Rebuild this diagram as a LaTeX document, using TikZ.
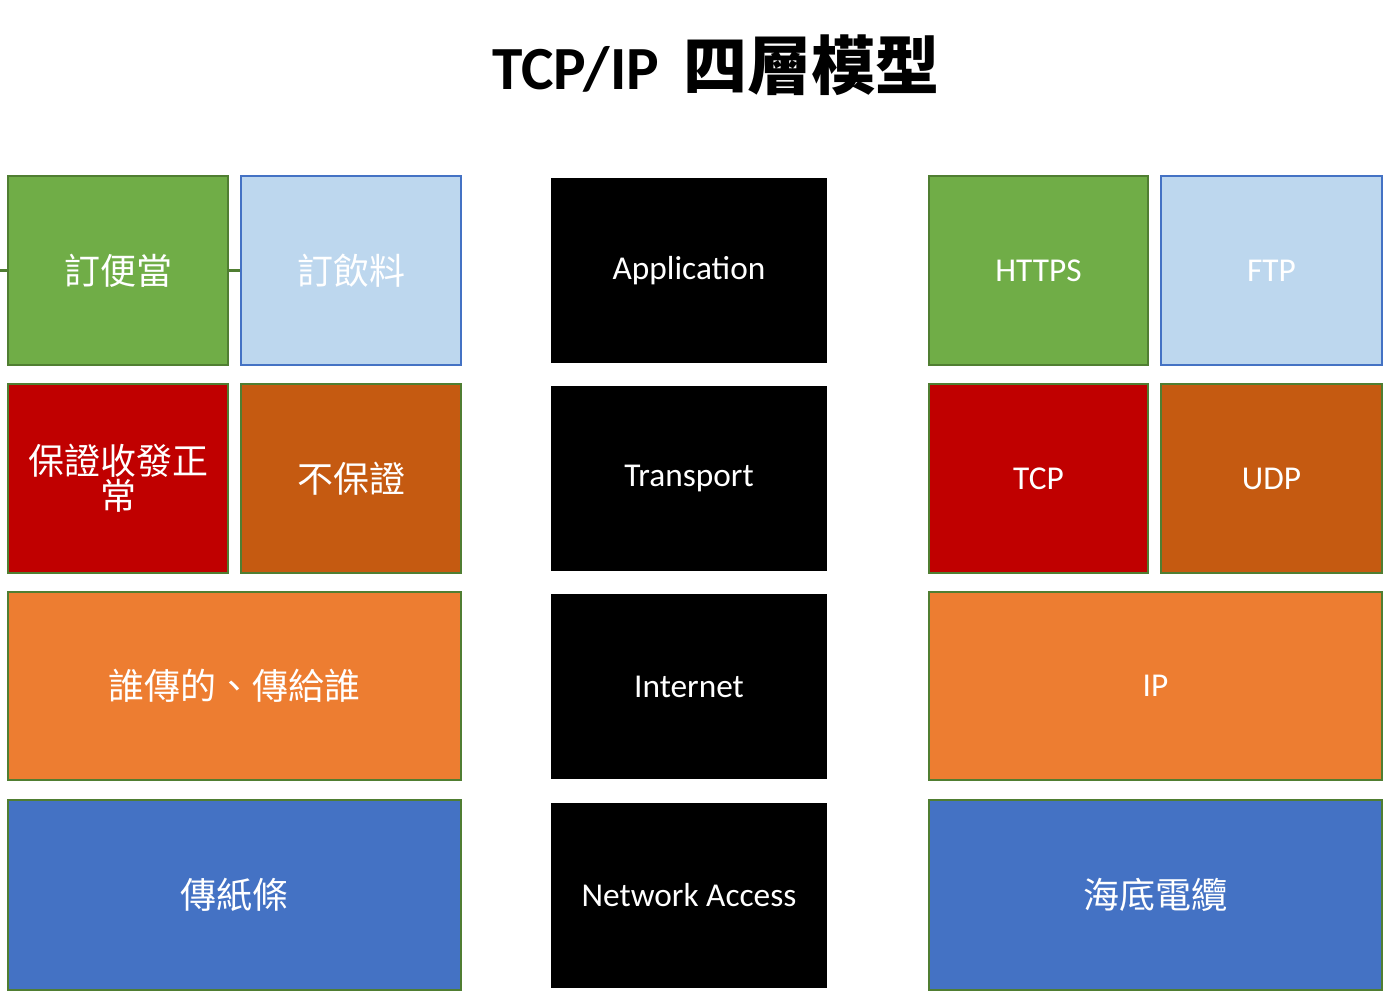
\documentclass[tikz,border=0pt]{standalone}
\usepackage{fontspec}
\setmainfont{Carlito}
\newfontfamily\cjk{Noto Sans CJK TC}
\definecolor{cgreen}{HTML}{70AD47}
\definecolor{clblue}{HTML}{BDD7EE}
\definecolor{cred}{HTML}{C00000}
\definecolor{cbrown}{HTML}{C55A11}
\definecolor{corange}{HTML}{ED7D31}
\definecolor{cblue}{HTML}{4472C4}
\definecolor{edgeg}{HTML}{507E32}
\begin{document}
\begin{tikzpicture}[x=0.75pt,y=-0.75pt,
 box/.style={draw=edgeg,line width=1.5pt,text=white,align=center,inner sep=0pt,font=\fontsize{27}{30}\selectfont},
 mid/.style={fill=black,text=white,inner sep=0pt,font=\fontsize{25}{30}\selectfont}]
\useasboundingbox (0,0) rectangle (1383,992);
\node (title) at (716,65) {\fontsize{46}{50}\selectfont\bfseries TCP/IP\hspace{0.4em}{\cjk\fontsize{48}{50}\selectfont 四層模型}};
% left
\node[box,fill=cgreen,minimum width=220\pgflinewidth] (l1) at (118,270.5) {};
\path (8,176) coordinate (a);
\node[box,fill=cgreen,minimum width=165pt,minimum height=141.75pt] (l1) at (118,270.5) {\cjk 訂便當};
\node[box,fill=clblue,draw=cblue,minimum width=165pt,minimum height=141.75pt] (l2) at (351,270.5) {\cjk 訂飲料};
\node[box,fill=cred,minimum width=165pt,minimum height=141.75pt] (l3) at (118,478.5) {\cjk 保證收發正\\[-4pt]\cjk 常};
\node[box,fill=cbrown,minimum width=165pt,minimum height=141.75pt] (l4) at (351,478.5) {\cjk 不保證};
\node[box,fill=corange,minimum width=339.75pt,minimum height=141pt] (l5) at (234.5,686) {\cjk 誰傳的、傳給誰};
\node[box,fill=cblue,minimum width=339.75pt,minimum height=142.5pt] (l6) at (234.5,895) {\cjk 傳紙條};
% middle
\node[mid,minimum width=207pt,minimum height=138.75pt] (m1) at (689,270.5) {Application};
\node[mid,minimum width=207pt,minimum height=138.75pt] (m2) at (689,478.5) {Transport};
\node[mid,minimum width=207pt,minimum height=138.75pt] (m3) at (689,686.5) {Internet};
\node[mid,minimum width=207pt,minimum height=138.75pt] (m4) at (689,895.5) {Network Access};
% right
\node[box,fill=cgreen,minimum width=164.25pt,minimum height=141.75pt,font=\fontsize{25}{30}\selectfont] (r1) at (1038.5,270.5) {HTTPS};
\node[box,fill=clblue,draw=cblue,minimum width=165.75pt,minimum height=141.75pt,font=\fontsize{25}{30}\selectfont] (r2) at (1271.5,270.5) {FTP};
\node[box,fill=cred,minimum width=164.25pt,minimum height=141.75pt,font=\fontsize{25}{30}\selectfont] (r3) at (1038.5,478.5) {TCP};
\node[box,fill=cbrown,minimum width=165.75pt,minimum height=141.75pt,font=\fontsize{25}{30}\selectfont] (r4) at (1271.5,478.5) {UDP};
\node[box,fill=corange,minimum width=339.75pt,minimum height=141pt,font=\fontsize{25}{30}\selectfont] (r5) at (1155.5,686) {IP};
\node[box,fill=cblue,minimum width=339.75pt,minimum height=142.5pt] (r6) at (1155.5,895) {\cjk 海底電纜};
\end{tikzpicture}
\end{document}
